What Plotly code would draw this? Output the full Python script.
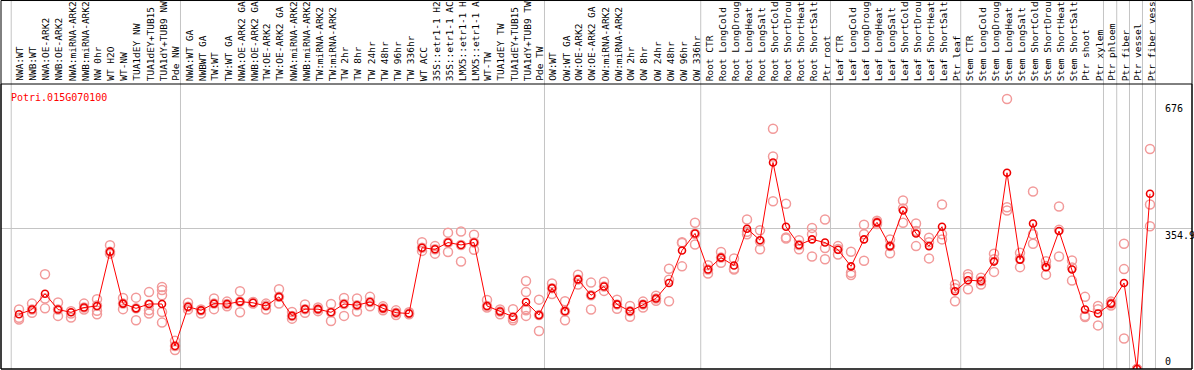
import plotly.graph_objects as go

title_text = "Potri.015G070100"

labels = [
    "NWA:WT", "NWB:WT", "NWA:OE-ARK2", "NWB:OE-ARK2", "NWA:miRNA-ARK2", "NWB:miRNA-ARK2",
    "NW 0hr", "WT H2O", "WT-NW", "TUA1dEY NW", "TUA1dEY+TUB15", "TUA1dY+TUB9 NW", "Pde NW",
    "NWA:WT GA", "NWBWT GA", "TW:WT", "TW:WT GA", "NWA:OE-ARK2 GA", "NWB:OE-ARK2 GA",
    "TW:OE-ARK2", "TW:OE-ARK2 GA", "NWA:miRNA-ARK2", "NWB:miRNA-ARK2", "TW:miRNA-ARK2",
    "TW:miRNA-ARK2", "TW 2hr", "TW 8hr", "TW 24hr", "TW 48hr", "TW 96hr", "TW 336hr",
    "WT ACC", "35S::etr1-1 H2", "35S::etr1-1 AC", "LMX5::etr1-1 H", "LMX5::etr1-1 A",
    "WT-TW", "TUA1dEY TW", "TUA1dEY+TUB15", "TUA1dY+TUB9 TW", "Pde TW",
    "OW:WT", "OW:WT GA", "OW:OE-ARK2", "OW:OE-ARK2 GA", "OW:miRNA-ARK2", "OW:miRNA-ARK2",
    "OW 2hr", "OW 8hr", "OW 24hr", "OW 48hr", "OW 96hr", "OW 336hr",
    "Root CTR", "Root LongCold", "Root LongDroug", "Root LongHeat", "Root LongSalt",
    "Root ShortCold", "Root ShortDrou", "Root ShortHeat", "Root ShortSalt", "Ptr root",
    "Leaf CTR", "Leaf LongCold", "Leaf LongDroug", "Leaf LongHeat", "Leaf LongSalt",
    "Leaf ShortCold", "Leaf ShortDrou", "Leaf ShortHeat", "Leaf ShortSalt", "Ptr leaf",
    "Stem CTR", "Stem LongCold", "Stem LongDroug", "Stem LongHeat", "Stem LongSalt",
    "Stem ShortCold", "Stem ShortDrou", "Stem ShortHeat", "Stem ShortSalt",
    "Ptr shoot", "Ptr xylem", "Ptr phloem", "Ptr fiber", "Ptr vessel", "Ptr fiber vess",
]

means = [
    138, 150, 190, 150, 143, 155, 159, 296, 165, 153, 164, 164, 58,
    157, 148, 165, 164, 170, 167, 159, 182, 134, 151, 151, 143, 164, 161, 169, 153, 142,
    140, 306, 302, 319, 313, 319, 159, 145, 132, 169, 136,
    204, 146, 226, 186, 208, 163, 146, 163, 178, 217, 299, 342,
    251, 281, 261, 354, 325, 521, 359, 313, 327, 319,
    301, 259, 327, 370, 310, 400, 342, 310, 359, 196,
    224, 222, 271, 495, 276, 367, 257, 348, 251, 150, 140, 165, 217, 0, 442,
]

replicates = [
    [150, 129, 125], [165, 142, 150], [239, 178, 153], [168, 134, 150], [146, 130, 140],
    [165, 150, 155], [176, 147, 138, 160], [312, 291, 296], [179, 151, 165], [180, 123, 153],
    [194, 148, 140, 163], [207, 199, 186, 144, 117], [71, 48, 58],
    [167, 157, 150], [150, 140, 148], [178, 151, 165], [170, 158, 164], [196, 143, 170],
    [167, 169, 165], [165, 150, 160], [201, 165, 182], [144, 127, 134], [163, 142, 151],
    [155, 146, 151], [164, 121, 143], [179, 134, 164], [178, 145, 161], [182, 158, 169],
    [158, 148, 153], [148, 136, 142], [143, 138, 140], [320, 298, 306], [310, 291, 302],
    [344, 295, 319], [347, 271, 313], [339, 301, 319], [174, 155, 159], [150, 138, 145],
    [151, 123, 128], [222, 194, 151, 148, 134], [175, 96, 136],
    [216, 189, 204], [171, 123, 146], [238, 213, 226], [218, 150, 186], [220, 197, 208],
    [175, 152, 163], [159, 132, 146], [170, 155, 163], [185, 172, 178], [253, 225, 171],
    [320, 259, 318], [369, 314, 341],
    [262, 241, 251], [295, 268, 281], [279, 253, 251], [377, 340, 346], [350, 302, 322],
    [606, 536, 423], [417, 332, 329], [325, 302, 313], [356, 340, 284], [377, 305, 277],
    [310, 289, 303], [296, 237, 243], [364, 340, 273], [374, 366, 370], [327, 292, 310],
    [425, 369, 405], [367, 310, 348], [331, 279, 320], [415, 340, 327], [213, 171, 204],
    [239, 201, 232], [230, 213, 222], [291, 245, 277], [681, 408, 400], [293, 257, 278],
    [448, 340, 316], [272, 238, 260], [410, 351, 284], [274, 223, 256], [182, 134, 131],
    [159, 110, 151], [170, 160, 165], [316, 252, 77], [0, 0, 0], [555, 415, 360],
]

group_separators = [-0.6, 12.42, 40.42, 52.44, 62.42, 72.44, 83.42, 84.44, 85.42, 86.42, 87.42]

right_axis_values = [676, 354.9, 0]
right_axis_text = ["676", "354.9", "0"]
grid_value = 354.9
y_max = 719

FONT = "DejaVu Sans Mono"

idx = list(range(len(labels)))
rep_x, rep_y = [], []
for i, vals in enumerate(replicates):
    for v in vals:
        rep_x.append(i)
        rep_y.append(v)

fig = go.Figure()
fig.add_trace(go.Scatter(
    x=rep_x, y=rep_y, mode="markers",
    marker=dict(symbol="circle-open", size=9, color="#f29a9a", line=dict(width=1.5)),
    hoverinfo="skip", showlegend=False,
))
fig.add_trace(go.Scatter(
    x=idx, y=means, mode="lines+markers",
    line=dict(color="#ff0000", width=1),
    marker=dict(symbol="circle-open", size=7, color="#ee0000", line=dict(width=1.6)),
    showlegend=False,
))

shapes = []
for s in group_separators:
    shapes.append(dict(type="line", xref="x", yref="paper", x0=s, x1=s, y0=0, y1=1.3,
                       line=dict(color="#c4c4c4", width=1), layer="below"))
shapes.append(dict(type="rect", xref="paper", yref="paper", x0=0, x1=1, y0=0, y1=1,
                   line=dict(color="black", width=1)))
shapes.append(dict(type="rect", xref="paper", yref="paper", x0=0, x1=1, y0=0, y1=1.2929,
                   line=dict(color="black", width=1)))

annotations = [dict(text=title_text, xref="paper", yref="paper", x=0.0067, y=0.954,
                    xanchor="left", yanchor="middle", showarrow=False,
                    font=dict(family=FONT, size=10, color="#ff0000"))]
for v, t in zip(right_axis_values, right_axis_text):
    annotations.append(dict(text=t, xref="paper", yref="y", x=0.9757, y=v,
                            xanchor="left", yanchor="bottom" if v == 0 else "top",
                            showarrow=False, font=dict(family=FONT, size=10, color="black")))
for i, lab in zip(idx, labels):
    annotations.append(dict(text=lab, xref="x", yref="paper", x=i, y=1.006,
                            xanchor="center", yanchor="bottom", textangle=-90,
                            showarrow=False, xshift=1, borderpad=0,
                            font=dict(family=FONT, size=9.5, color="black")))

fig.update_layout(
    width=1194, height=370,
    margin=dict(l=1, r=2, t=84, b=1, pad=0),
    paper_bgcolor="white", plot_bgcolor="white",
    showlegend=False,
    shapes=shapes, annotations=annotations,
    xaxis=dict(range=[-1.385, 90.23], showticklabels=False, ticks="", showgrid=False,
               zeroline=False, showline=False, automargin=False),
    yaxis=dict(range=[0, y_max], tickmode="array", tickvals=[grid_value],
               showticklabels=False, showgrid=True, gridcolor="#c4c4c4", gridwidth=1,
               zeroline=False, showline=False, automargin=False, ticks=""),
)

fig.write_html(
    "out.html",
    config={"displayModeBar": False},
    post_script="document.body.style.margin='0';document.body.style.padding='0';"
                "document.documentElement.style.overflow='hidden';",
)
